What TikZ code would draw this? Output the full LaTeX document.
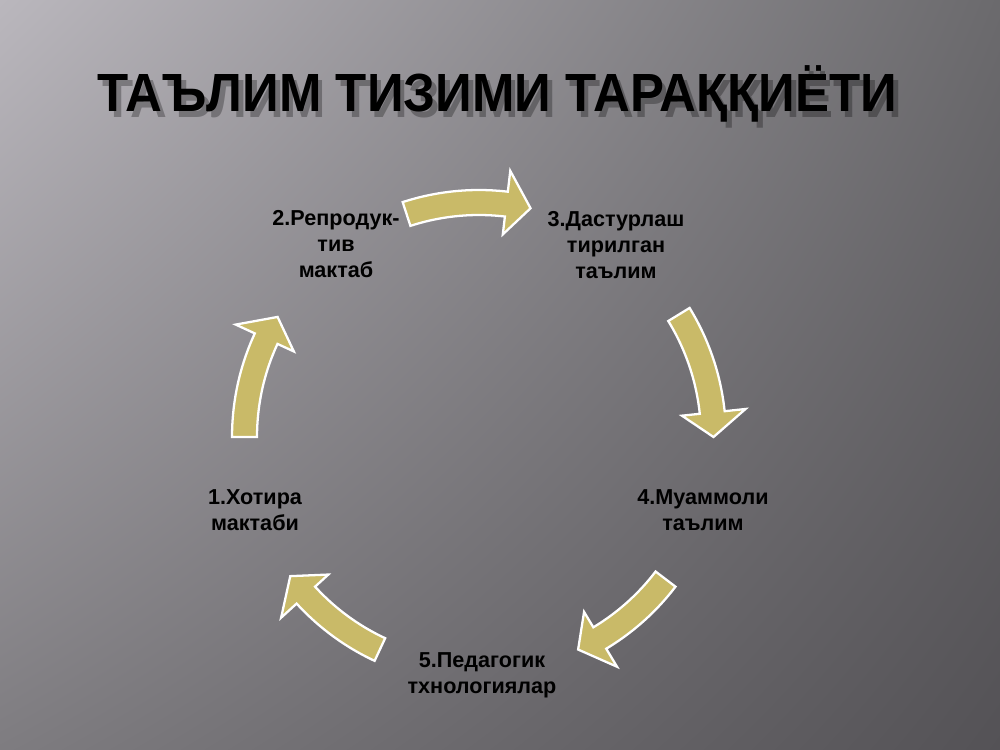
\documentclass[tikz,border=0pt]{standalone}
\usepackage{fontspec}
\setmainfont{Liberation Sans}
\usepackage{graphicx}
\usetikzlibrary{shadings}
\definecolor{bgUL}{HTML}{BAB7BD}
\definecolor{bgUR}{HTML}{6B6A6D}
\definecolor{bgLL}{HTML}{7E7C80}
\definecolor{bgLR}{HTML}{545256}
\definecolor{arrowfill}{RGB}{201,186,104}
\newcommand{\titletext}{\scalebox{0.948}[1]{\fontsize{30.6pt}{36pt}\selectfont\bfseries ТАЪЛИМ ТИЗИМИ ТАРАҚҚИЁТИ}}
\tikzset{
  lbl/.style={font=\fontsize{12.3pt}{14.8pt}\selectfont\bfseries, align=center, text=black, inner sep=0pt},
  cycarrow/.style={fill=arrowfill, draw=white, line width=1.3pt, line join=miter}
}
\begin{document}
\begin{tikzpicture}[x=0.02cm,y=-0.02cm]
\useasboundingbox (0,0) rectangle (1000,750);
\shade[upper left=bgUL, upper right=bgUR, lower left=bgLL, lower right=bgLR] (0,0) rectangle (1000,750);
% title with soft shadow
\node[anchor=base, text=black, opacity=0.28] (tshadow) at (502,117) {\titletext};
\node[anchor=base, text=black] (title) at (497.5,112) {\titletext};
% cycle arrows
\coordinate (c) at (479,437);
\foreach \s/\t in {180/210.8, 252/282.7, 328.5/360, 37.3/65, 115/143.6}{
  \pgfmathsetmacro\b{\t-6}
  \filldraw[cycarrow]
    plot[domain=\s:\b, samples=24] ({479+247*cos(\x)},{437+247*sin(\x)})
    -- ({479+268*cos(\b)},{437+268*sin(\b)})
    -- ({479+234.5*cos(\t)},{437+234.5*sin(\t)})
    -- ({479+204*cos(\b)},{437+204*sin(\b)})
    -- ({479+222*cos(\b)},{437+222*sin(\b)})
    -- plot[domain=\b:\s, samples=24] ({479+222*cos(\x)},{437+222*sin(\x)})
    -- cycle;
}
% labels
\node[lbl] (l1) at (255,510) {1.Хотира\\мактаби};
\node[lbl] (l2) at (336,244) {2.Репродук-\\тив\\мактаб};
\node[lbl] (l3) at (616,245) {3.Дастурлаш\\тирилган\\таълим};
\node[lbl] (l4) at (703,510) {4.Муаммоли\\таълим};
\node[lbl] (l5) at (482,675) {5.Педагогик\\тхнологиялар};
\end{tikzpicture}
\end{document}
